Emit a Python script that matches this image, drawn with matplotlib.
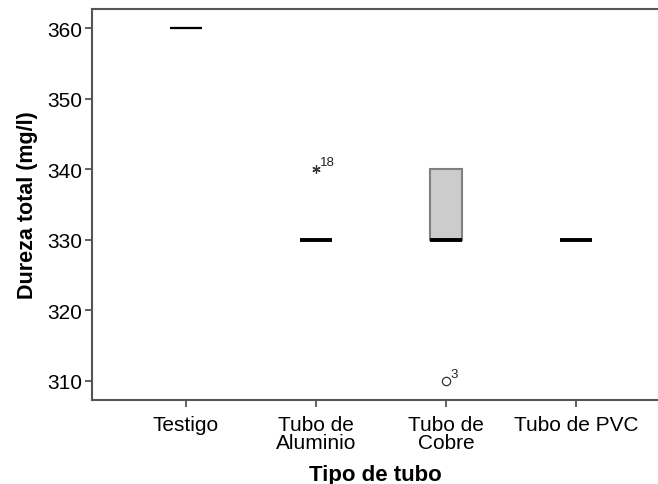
import matplotlib
matplotlib.use("Agg")
import matplotlib.pyplot as plt

plt.rcParams['font.family'] = ['Liberation Sans', 'DejaVu Sans']

# Box summaries per group (SPSS style boxplot)
grupos = ["Testigo", "Tubo de\nAluminio", "Tubo de\nCobre", "Tubo de PVC"]
q1 = [360, 330, 330, 330]
mediana = [360, 330, 330, 330]
q3 = [360, 330, 340, 330]
bigote_inf = [360, 330, 330, 330]
bigote_sup = [360, 330, 340, 330]

# atypical values: (group index, value, case label, marker)
atipicos = [(1, 340, "18", (6, 2, 0)), (2, 310, "3", "o")]

stats = []
for i in range(len(grupos)):
    stats.append(dict(med=mediana[i], q1=q1[i], q3=q3[i],
                      whislo=bigote_inf[i], whishi=bigote_sup[i], fliers=[]))

fig = plt.figure(figsize=(6.58, 4.85), dpi=100)
ax = fig.add_axes([92/658, 84/485, 566/658, 391/485])

pos = [1, 2, 3, 4]
bp = ax.bxp(stats, positions=pos, widths=0.25, patch_artist=True,
            showfliers=False, showcaps=False,
            boxprops=dict(facecolor="#cccccc", edgecolor="#808080", linewidth=1.5),
            medianprops=dict(color="black", linewidth=2.8),
            whiskerprops=dict(color="black", linewidth=1))
bp['medians'][0].set_linewidth(1.6)

for g, v, lab, m in atipicos:
    ax.plot(pos[g], v, marker=m, markersize=6,
            markerfacecolor="none", markeredgecolor="#333333",
            markeredgewidth=0.9, linestyle="none")
    ax.annotate(lab, (pos[g], v), xytext=(3, 3), textcoords="offset points",
                fontsize=9.5, color="#222222")

ax.set_xlim(0.277, 4.63)
ax.set_ylim(307.3, 362.75)
ax.set_yticks([310, 320, 330, 340, 350, 360])
ax.set_xticks(pos)
ax.set_xticklabels(grupos, linespacing=0.9)

for s in ["top", "left", "bottom"]:
    ax.spines[s].set_color("#555555")
    ax.spines[s].set_linewidth(1.5)
ax.spines["right"].set_visible(False)
ax.tick_params(axis="both", colors="#555555", length=5, width=1.3,
               labelcolor="black", labelsize=15)
ax.tick_params(axis="x", pad=6)
ax.tick_params(axis="y", pad=2)

ax.set_ylabel("Dureza total (mg/l)", fontsize=15.5, fontweight="bold", labelpad=7)
ax.set_xlabel("Tipo de tubo", fontsize=16, fontweight="bold", labelpad=9)

fig.savefig("out.png", dpi=100)
